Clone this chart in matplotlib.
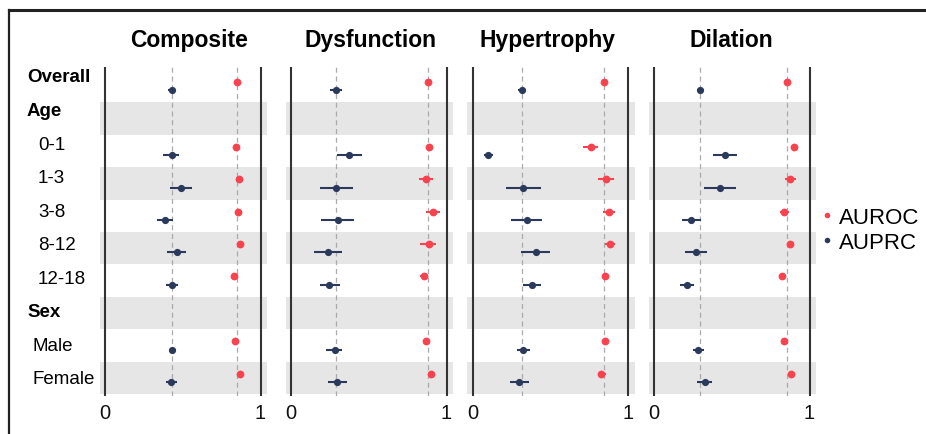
import matplotlib.pyplot as plt
import numpy as np
from matplotlib.lines import Line2D

plt.rcParams['font.family'] = ['Liberation Sans', 'DejaVu Sans']

nan = np.nan
labels = ['Overall', 'Age', '0-1', '1-3', '3-8', '8-12', '12-18', 'Sex', 'Male', 'Female']
headers = ['Overall', 'Age', 'Sex']
panels = ['Composite', 'Dysfunction', 'Hypertrophy', 'Dilation']

auroc = {
    'Composite':   [0.850, nan, 0.843, 0.862, 0.856, 0.867, 0.832, nan, 0.839, 0.865],
    'Dysfunction': [0.884, nan, 0.886, 0.865, 0.914, 0.886, 0.856, nan, 0.869, 0.899],
    'Hypertrophy': [0.845, nan, 0.760, 0.858, 0.878, 0.884, 0.850, nan, 0.854, 0.828],
    'Dilation':    [0.857, nan, 0.900, 0.876, 0.833, 0.872, 0.825, nan, 0.833, 0.882],
}
auroc_lo = {
    'Composite':   [0.840, nan, 0.833, 0.850, 0.846, 0.855, 0.822, nan, 0.830, 0.853],
    'Dysfunction': [0.874, nan, 0.876, 0.822, 0.869, 0.832, 0.830, nan, 0.858, 0.888],
    'Hypertrophy': [0.835, nan, 0.712, 0.809, 0.841, 0.852, 0.840, nan, 0.844, 0.808],
    'Dilation':    [0.847, nan, 0.890, 0.840, 0.808, 0.860, 0.815, nan, 0.823, 0.872],
}
auroc_hi = {
    'Composite':   [0.860, nan, 0.853, 0.874, 0.866, 0.879, 0.842, nan, 0.848, 0.877],
    'Dysfunction': [0.894, nan, 0.896, 0.914, 0.961, 0.933, 0.880, nan, 0.880, 0.910],
    'Hypertrophy': [0.855, nan, 0.809, 0.910, 0.916, 0.918, 0.860, nan, 0.864, 0.855],
    'Dilation':    [0.867, nan, 0.910, 0.910, 0.865, 0.884, 0.835, nan, 0.843, 0.892],
}
auprc = {
    'Composite':   [0.428, nan, 0.428, 0.486, 0.383, 0.462, 0.430, nan, 0.432, 0.426],
    'Dysfunction': [0.288, nan, 0.376, 0.290, 0.301, 0.237, 0.247, nan, 0.280, 0.299],
    'Hypertrophy': [0.315, nan, 0.101, 0.326, 0.348, 0.405, 0.384, nan, 0.326, 0.300],
    'Dilation':    [0.297, nan, 0.457, 0.423, 0.239, 0.269, 0.214, nan, 0.284, 0.325],
}
auprc_lo = {
    'Composite':   [0.405, nan, 0.376, 0.415, 0.333, 0.400, 0.390, nan, 0.410, 0.390],
    'Dysfunction': [0.252, nan, 0.299, 0.187, 0.196, 0.148, 0.187, nan, 0.226, 0.241],
    'Hypertrophy': [0.290, nan, 0.073, 0.214, 0.247, 0.313, 0.326, nan, 0.283, 0.240],
    'Dilation':    [0.275, nan, 0.380, 0.323, 0.179, 0.199, 0.167, nan, 0.248, 0.278],
}
auprc_hi = {
    'Composite':   [0.451, nan, 0.479, 0.559, 0.440, 0.523, 0.469, nan, 0.458, 0.466],
    'Dysfunction': [0.327, nan, 0.454, 0.396, 0.406, 0.327, 0.312, nan, 0.331, 0.361],
    'Hypertrophy': [0.340, nan, 0.133, 0.442, 0.448, 0.498, 0.440, nan, 0.369, 0.361],
    'Dilation':    [0.320, nan, 0.536, 0.526, 0.301, 0.342, 0.256, nan, 0.323, 0.374],
}

RED = '#F8434E'
NAVY = '#2B3A5C'
W, H = 926, 435

fig = plt.figure(figsize=(W / 100, H / 100), dpi=100)

# pixel position of x=0 for each panel, px per unit
x0_px = [105, 291, 472.7, 654]
title_px = [189, 371, 547.5, 731.5]
scale = 155.5
xlim = (-0.045, 1.055)
top_px, bot_px = 68, 397
rows = np.arange(len(labels))

for i, name in enumerate(panels):
    left = (x0_px[i] + xlim[0] * scale) / W
    width = (xlim[1] - xlim[0]) * scale / W
    ax = fig.add_axes([left, 1 - bot_px / H, width, (bot_px - top_px) / H])
    ax.set_xlim(xlim)
    ax.set_ylim(9.555, -0.586)

    # alternating grey bands
    shaded = rows[rows % 2 == 1]
    ax.barh(shaded, 1.08, left=-0.035, height=1.0, color='#E6E6E6', zorder=0)

    ax.axvline(0, color='#333333', lw=1.5, zorder=1)
    ax.axvline(1, color='#333333', lw=1.5, zorder=1)
    ax.axvline(auroc[name][0], color='#AAAAAA', lw=0.9, ls=(0, (4, 3)), zorder=1)
    ax.axvline(auprc[name][0], color='#AAAAAA', lw=0.9, ls=(0, (4, 3)), zorder=1)

    r = np.array(auroc[name])
    p = np.array(auprc[name])
    ax.errorbar(r, rows - 0.13,
                xerr=[r - np.array(auroc_lo[name]), np.array(auroc_hi[name]) - r],
                fmt='o', color=RED, ms=5.6, mew=0, elinewidth=1.5, capsize=0,
                zorder=3, label='AUROC')
    ax.errorbar(p, rows + 0.13,
                xerr=[p - np.array(auprc_lo[name]), np.array(auprc_hi[name]) - p],
                fmt='o', color=NAVY, ms=5.2, mew=0, elinewidth=1.5, capsize=0,
                zorder=3, label='AUPRC')

    for s in ax.spines.values():
        s.set_visible(False)
    ax.set_yticks([])
    ax.set_xticks([0, 1])
    ax.set_xticklabels(['0', '1'])
    ax.tick_params(axis='x', length=0, pad=5, labelsize=14.5, labelcolor='#111111')

    fig.text(title_px[i] / W, 1 - 46.7 / H, name, ha='center', va='baseline',
             fontsize=16.5, fontweight='bold')

# row labels
label_x = {'Overall': 27, 'Age': 27, 'Sex': 27, 'Male': 33, 'Female': 33}
for j, lab in enumerate(labels):
    y = 78 + j * 33.55
    fig.text(label_x.get(lab, 38) / W, 1 - y / H, lab, ha='left', va='center',
             fontsize=13.5, fontweight='bold' if lab in headers else 'normal')

handles = [Line2D([], [], ls='', marker='o', color=RED, ms=4, mew=0),
           Line2D([], [], ls='', marker='o', color=NAVY, ms=4, mew=0)]
fig.legend(handles, ['AUROC', 'AUPRC'], loc='center left',
           bbox_to_anchor=(821 / W, 1 - 231 / H), frameon=False, fontsize=16,
           handlelength=0.5, handletextpad=0.3, labelspacing=0.2,
           borderpad=0, borderaxespad=0)

# outer frame (only top and left visible)
fig.add_artist(Line2D([9 / W, 1], [1 - 11 / H, 1 - 11 / H], transform=fig.transFigure,
                      color='#222222', lw=2.2))
fig.add_artist(Line2D([9 / W, 9 / W], [0, 1 - 11 / H], transform=fig.transFigure,
                      color='#222222', lw=1.6))

fig.savefig('out.png', dpi=100)
